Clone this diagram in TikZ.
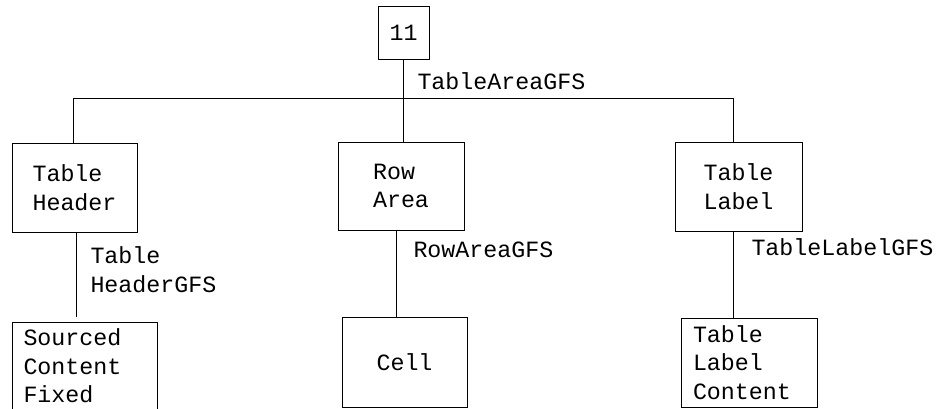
\documentclass[tikz,border=0pt]{standalone}
\usepackage{fontspec}
\setmonofont{Liberation Mono}
\begin{document}
\begin{tikzpicture}[x=1pt,y=-1pt,line width=1pt,
  every node/.style={font=\ttfamily\fontsize{23.3}{28.5}\selectfont},
  boxnode/.style={draw,rectangle,inner sep=0pt,align=left},
  lbl/.style={anchor=west,inner sep=0pt,align=left}]
\useasboundingbox (0,0) rectangle (937,408);
% boxes
\node[boxnode,minimum width=51pt,minimum height=53pt] (n11) at (403.5,32.5) {11};
\node[boxnode,minimum width=125pt,minimum height=89pt] (th) at (74.5,187.5) {Table\\Header};
\node[boxnode,minimum width=126pt,minimum height=88pt] (ra) at (401,186) {Row\\Area};
\node[boxnode,minimum width=127pt,minimum height=89pt] (tl) at (738.5,186.5) {Table\\Label};
\node[boxnode,minimum width=145pt,minimum height=88pt,text width=122pt,inner xsep=11.5pt] (sc) at (84.5,366) {Sourced\\Content\\Fixed};
\node[boxnode,minimum width=125pt,minimum height=90pt] (cell) at (404.5,362) {Cell};
\node[boxnode,minimum width=136pt,minimum height=89pt,text width=112pt,inner xsep=12pt] (tlc) at (749,362.5) {Table\\Label\\Content};
% bus
\coordinate (busL) at (73,98);
\coordinate (busM) at (403,98);
\coordinate (busR) at (733,98);
\draw (busL) -- (busR);
\draw (n11.south -| busM) -- (busM);
\draw (busL) -- (busL |- th.north);
\draw (busM) -- (busM |- ra.north);
\draw (busR) -- (busR |- tl.north);
% lower connectors
\coordinate (thb) at (76,232);
\coordinate (thend) at (76,317);
\draw (thb) -- (thend);
\coordinate (rab) at (396,230);
\draw (rab) -- (rab |- cell.north);
\coordinate (tlb) at (733,231);
\draw (tlb) -- (tlb |- tlc.north);
% labels
\node[lbl] (lTA) at (417,81) {TableAreaGFS};
\node[lbl] (lTH) at (90,269.5) {Table\\HeaderGFS};
\node[lbl] (lRA) at (413,250) {RowAreaGFS};
\node[lbl] (lTL) at (751,247) {TableLabelGFS};
\end{tikzpicture}
\end{document}
